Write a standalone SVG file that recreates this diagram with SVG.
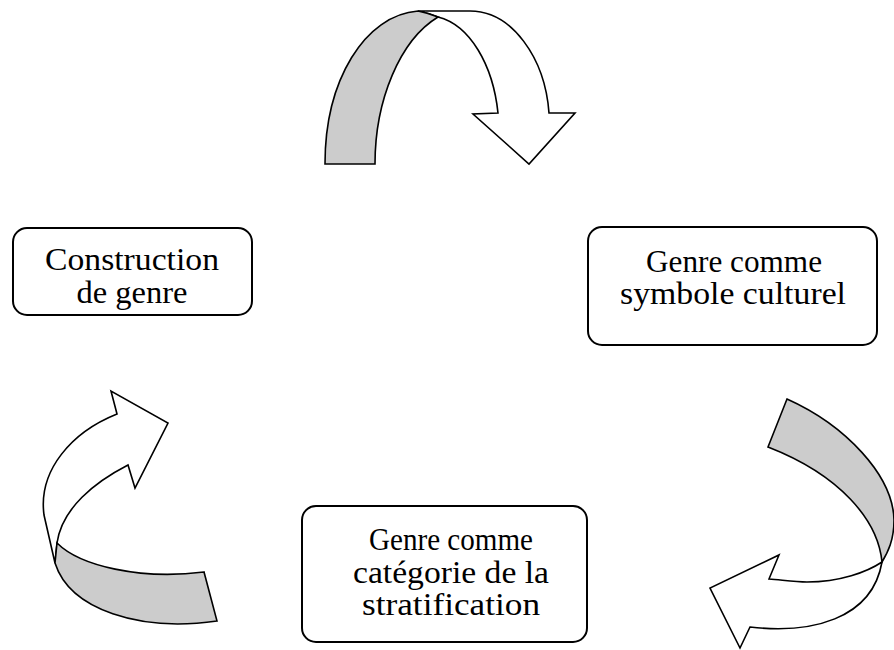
<svg xmlns="http://www.w3.org/2000/svg" width="894" height="650" viewBox="0 0 894 650">
<style>
.box{fill:#fff;stroke:#000;stroke-width:2}
.t{font-family:"Liberation Serif","Times New Roman",serif;font-size:31px;fill:#000;text-anchor:middle}
.front{fill:#fff;stroke:#000;stroke-width:1.6;stroke-linejoin:miter}
.back{fill:#cccccc;stroke:#000;stroke-width:1.6;stroke-linejoin:miter}
</style>
<rect width="894" height="650" fill="#fff"/>
<g id="connectors">
  <g id="arrow-top">
    <path class="front" d="M418,11 L470,11 C512,11 545,58 549,113 L575,113 L529,164 L473,114 L498,113 C493,65 470,25 438,17 Q428,13 418,11 Z"/>
    <path class="back" d="M325,164 C325,80 365,15 418,11 Q428,13 438,17 C400,40 375,100 375,164 Z"/>
  </g>
  <g id="arrow-right">
    <path class="front" d="M882,562 C867,572 840,582 807,582 C795,582 782,580 769,579 L779,555 L710,588 L740,648 L750,627 C810,634 872,620 882,562 Z"/>
    <path class="back" d="M787,399 C845,425 893,475 894,520 C894,540 888,552 882,562 C878,520 840,475 768,447 Z"/>
  </g>
  <g id="arrow-left">
    <path class="front" d="M117,414 L111,391 L168,423 L135,488 L128,465 C95,482 62,508 57,543 L55,563 L44,515 C38,470 72,432 117,414 Z"/>
    <path class="back" d="M57,543 C80,566 140,580 204,572 L217,621 C140,632 70,610 55,563 Z"/>
  </g>
</g>
<g id="node-construction">
  <rect class="box" x="13" y="228" width="239" height="87" rx="14"/>
  <text class="t" x="132" y="270" textLength="174" lengthAdjust="spacingAndGlyphs">Construction</text>
  <text class="t" x="132" y="303" textLength="111" lengthAdjust="spacingAndGlyphs">de genre</text>
</g>
<g id="node-symbole">
  <rect class="box" x="588" y="227" width="289" height="118" rx="14"/>
  <text class="t" x="734" y="272" textLength="176" lengthAdjust="spacingAndGlyphs">Genre comme</text>
  <text class="t" x="733" y="304" textLength="226" lengthAdjust="spacingAndGlyphs">symbole culturel</text>
</g>
<g id="node-stratification">
  <rect class="box" x="302" y="506" width="285" height="136" rx="14"/>
  <text class="t" x="451" y="550" textLength="164" lengthAdjust="spacingAndGlyphs">Genre comme</text>
  <text class="t" x="451" y="583" textLength="196" lengthAdjust="spacingAndGlyphs">catégorie de la</text>
  <text class="t" x="451" y="615" textLength="178" lengthAdjust="spacingAndGlyphs">stratification</text>
</g>
</svg>
